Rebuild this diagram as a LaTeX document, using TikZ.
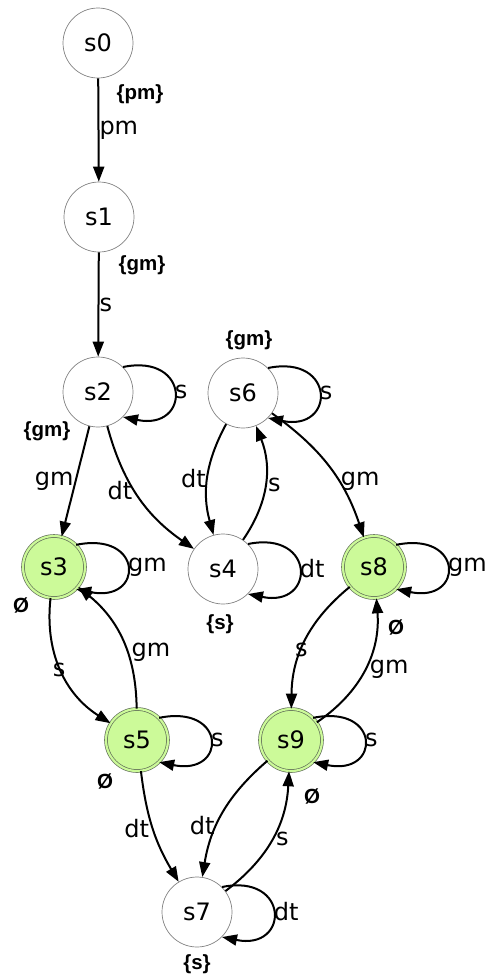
\documentclass[tikz,border=0pt]{standalone}
\usepackage{fontspec}
\setmainfont{DejaVu Sans}
\newfontfamily\lblfont{Liberation Sans}
\usetikzlibrary{arrows.meta}
\definecolor{lgreen}{RGB}{204,250,153}
\definecolor{ringgray}{RGB}{100,115,90}
\definecolor{circgray}{RGB}{130,130,130}
\tikzset{
  st/.style={circle, draw=circgray, line width=0.7pt, fill=white, minimum size=70pt, inner sep=0pt,
    font=\fontsize{24}{28}\selectfont},
  acc/.style={circle, draw=ringgray, line width=0.7pt, double=lgreen, double distance=2.2pt,
    fill=lgreen, minimum size=62pt, inner sep=0pt, font=\fontsize{24}{28}\selectfont},
  edge/.style={line width=2pt, -{Triangle[length=15pt,width=11pt]}},
  elab/.style={font=\fontsize{24}{28}\selectfont, inner sep=1pt},
  prop/.style={font=\lblfont\bfseries\fontsize{20.5}{24}\selectfont, inner sep=0pt},
}
\begin{document}
\begin{tikzpicture}[x=1pt,y=1pt]
\useasboundingbox (0,0) rectangle (486,-978);
% states
\node[st]  (s0) at (98,-43) {s0};
\node[st]  (s1) at (99,-217) {s1};
\node[st]  (s2) at (98,-392) {s2};
\node[st]  (s6) at (243,-393) {s6};
\node[acc] (s3) at (54,-567) {s3};
\node[st]  (s4) at (223,-569) {s4};
\node[acc] (s8) at (374,-567) {s8};
\node[acc] (s5) at (137,-740) {s5};
\node[acc] (s9) at (291,-740) {s9};
\node[st]  (s7) at (197,-912) {s7};
% propositions
\node[prop] (p0) at (140,-94) {\{pm\}};
\node[prop] (p1) at (142,-265) {\{gm\}};
\node[prop] (p2) at (47,-431) {\{gm\}};
\node[prop] (p6) at (249,-340) {\{gm\}};
\node[prop] (p3) at (21,-605) {Ø};
\node[prop] (p4) at (220,-624) {\{s\}};
\node[prop] (p8) at (396,-627) {Ø};
\node[prop] (p5) at (105,-781) {Ø};
\node[prop] (p9) at (312,-796) {Ø};
\node[prop] (p7) at (197,-964) {\{s\}};
% transitions
\draw[edge] (s0) -- (s1) node[elab, pos=.5, anchor=west, inner sep=0pt] {pm};
\draw[edge] (s1) -- (s2) node[elab, pos=.5, anchor=west, inner sep=0pt] {s};
\draw[edge] (s2) to node[elab, pos=.5, anchor=east] {gm} (s3);
\draw[edge] (s2) to[bend right=20] node[elab, pos=.45, anchor=east] {dt} (s4);
\draw[edge] (s6) to[bend right=22] node[elab, pos=.5, anchor=east] {dt} (s4);
\draw[edge] (s4) to[bend right=28] node[elab, pos=.5, anchor=west, inner sep=2pt] {s} (s6);
\draw[edge] (s6) to[bend left=18] node[elab, pos=.62, anchor=west, inner sep=1pt] {gm} (s8);
\draw[edge] (s3) to[bend right=32] node[elab, pos=.5, anchor=center, xshift=-2pt] {s} (s5);
\draw[edge] (s5) to[bend right=25] node[elab, pos=.4, anchor=west, inner sep=3pt] {gm} (s3);
\draw[edge] (s8) to[bend right=25] node[elab, pos=.58, anchor=center] {s} (s9);
\draw[edge] (s9) to[bend right=30] node[elab, pos=.5, anchor=west, inner sep=4pt] {gm} (s8);
\draw[edge] (s5) to[bend right=12] node[elab, pos=.5, anchor=east, inner sep=3pt] {dt} (s7);
\draw[edge] (s9) to[bend right=20] node[elab, pos=.62, anchor=east, inner sep=1pt] {dt} (s7);
\draw[edge] (s7) to[bend right=25] node[elab, pos=.5, anchor=west, inner sep=3pt] {s} (s9);
% self loops
\foreach \n/\t in {s2/s, s6/s, s3/gm, s4/dt, s8/gm, s5/s, s9/s, s7/dt}{
  \draw[edge] (\n.45) .. controls +(68,14) and +(68,-14) .. (\n.-45)
    node[elab, pos=.5, anchor=west, inner sep=0pt] {\t};
}
\end{tikzpicture}
\end{document}
